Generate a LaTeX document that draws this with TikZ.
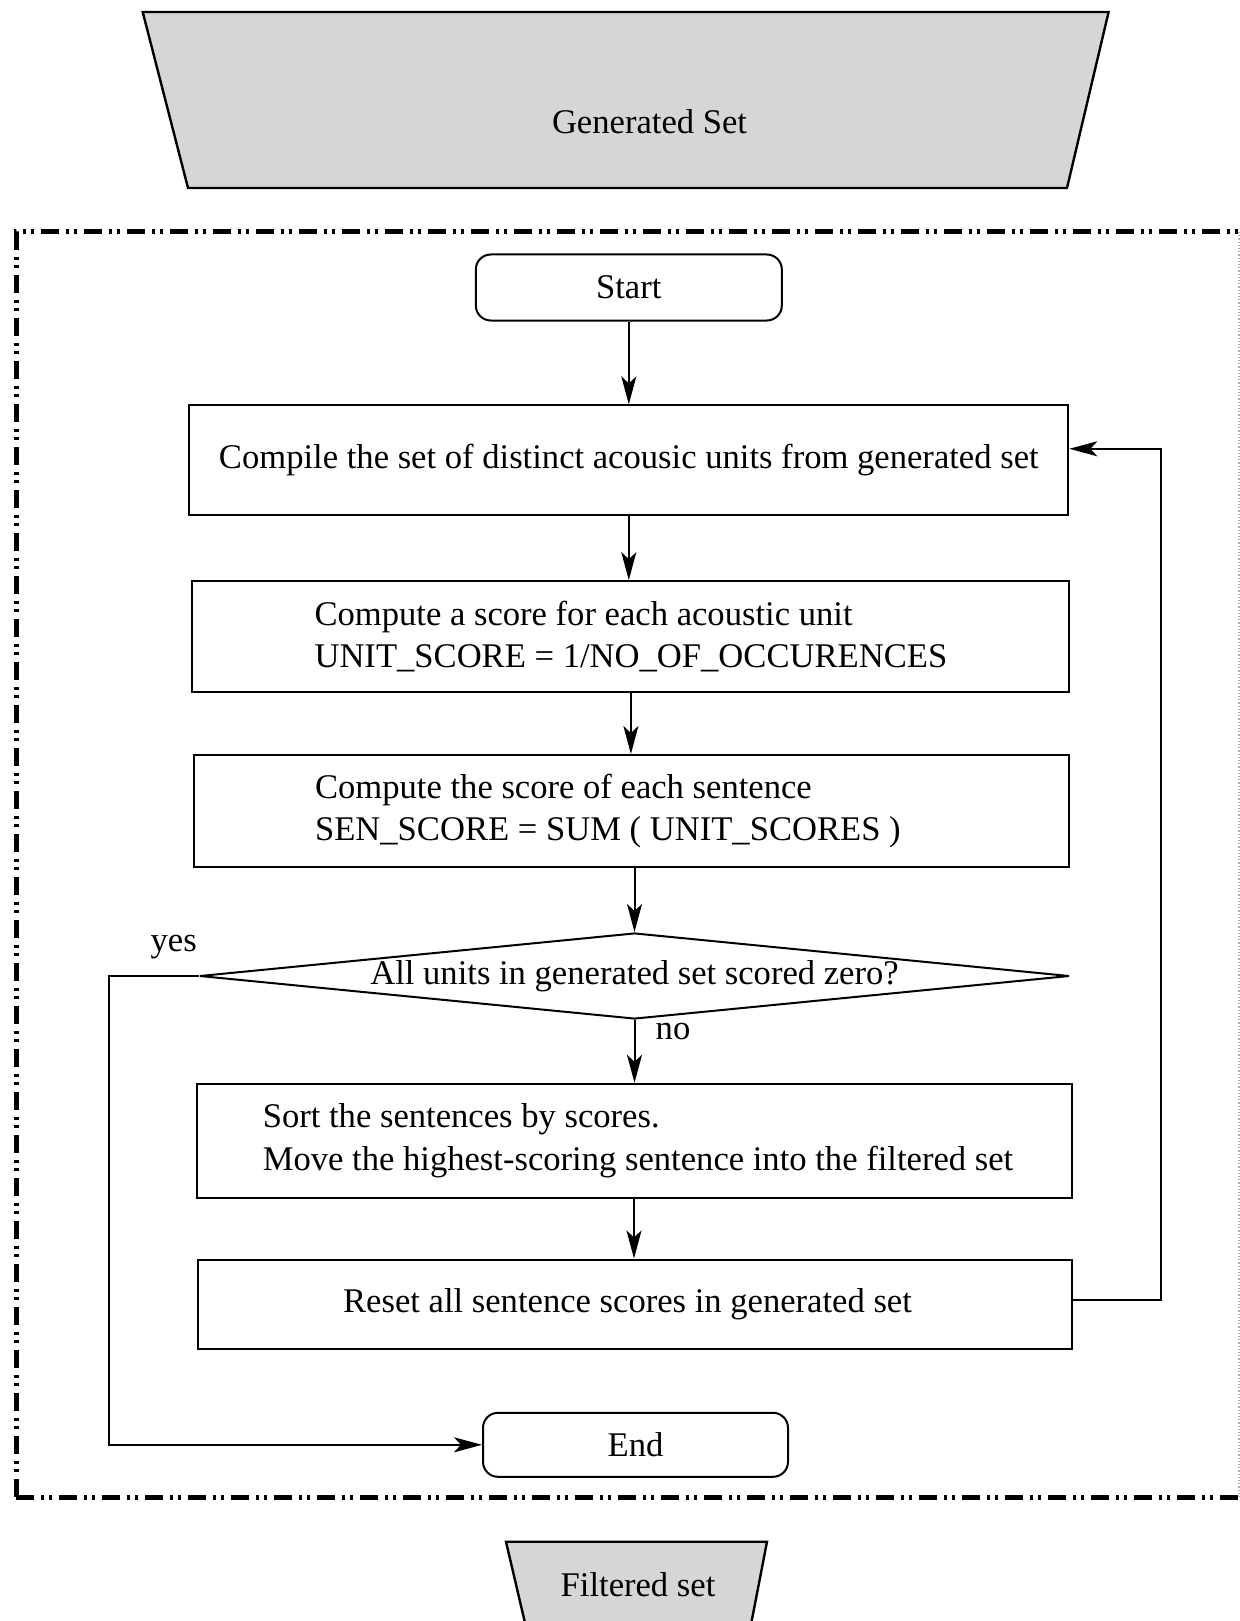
\documentclass[tikz,border=0pt]{standalone}
\usepackage{fontspec}
\setmainfont{Liberation Serif}
\usetikzlibrary{arrows.meta,shapes.geometric,calc}
\begin{document}
\begin{tikzpicture}[x=0.5pt,y=-0.5pt,
  every node/.style={font=\fontsize{17.3}{21.2}\selectfont},
  box/.style={draw, line width=1pt, inner sep=0pt, align=left},
  term/.style={box, rounded corners=7.5pt, align=center},
  arr/.style={line width=1pt, -{Stealth[length=14pt,width=7.5pt,inset=3.5pt]}},
  frame/.style={line width=2.5pt, dash pattern=on 9pt off 3.5pt on 1.5pt off 2.5pt on 1.5pt off 3.5pt},
  trap/.style={draw, line width=1.2pt, fill=black!16}]
\clip (0,0) rectangle (1240,1621);
\fill[white] (0,0) rectangle (1240,1621);

% input / output sets
\draw[trap] (142.7,12) -- (1108.6,12) -- (1067,188) -- (188,188) -- cycle;
\node (gen) at (649.5,122) {Generated Set};
\draw[trap] (506,1541.7) -- (767,1541.7) -- (748,1640) -- (529,1640) -- cycle;
\node (filt) at (638,1585) {Filtered set};

% frame
\draw[frame] (16,1497) -- (16,232) -- (1239,232);
\draw[frame] (16,1497) -- (1239,1497);
\draw[black!30, line width=0.6pt, densely dotted] (1239,232) -- (1239,1497);

% nodes
\node[term, minimum width=153pt, minimum height=33pt] (start) at (628.8,287.5) {Start};
\node[box, align=center, minimum width=439.5pt, minimum height=54.8pt] (b1) at (628.8,460.2)
  {Compile the set of distinct acousic units from generated set};
\node[box, minimum width=438.5pt, minimum height=55.35pt] (b2) at (630.9,636.5)
  {Compute a score for each acoustic unit\\UNIT\_SCORE = 1/NO\_OF\_OCCURENCES};
\node[box, minimum width=437.5pt, minimum height=55.8pt] (b3) at (631.9,810.8)
  {Compute the score of each sentence\\SEN\_SCORE = SUM ( UNIT\_SCORES )\hspace*{24pt}};
\node[diamond, draw, line width=1pt, aspect=10.1, minimum width=435pt, minimum height=43pt, inner sep=0pt] (dec) at (634.5,976)
  {All units in generated set scored zero?};
\node[box, minimum width=437.5pt, minimum height=56.9pt] (b4) at (634,1140.7)
  {\hspace*{4pt}Sort the sentences by scores.\\\hspace*{4pt}Move the highest-scoring sentence into the filtered set};
\node[box, align=center, minimum width=437pt, minimum height=44.5pt] (b5) at (634.5,1304)
  {Reset all sentence scores in generated set\hspace*{7pt}};
\node[term, minimum width=152.5pt, minimum height=32pt] (endn) at (635.5,1444.8) {End};

\node (yes) at (173.7,947) {yes};
\node (no) at (673,1032) {no};

% connectors
\draw[arr] (start.south) -- (start.south |- b1.north);
\draw[arr] (b1.south) -- (b1.south |- b2.north);
\draw[arr] (b2.south) -- (b2.south |- b3.north);
\draw[arr] (b3.south -| dec.north) -- (dec.north);
\draw[arr] (dec.south) -- (dec.south |- b4.north);
\draw[arr] (b4.south) -- (b4.south |- b5.north);
\coordinate (ycorner) at (108.6,976);
\draw[arr] (dec.west) -- (ycorner) |- (endn.west);
\draw[arr] ([yshift=2pt]b5.east) -- ++(88,0) |- ([yshift=5.7pt]b1.east);
\end{tikzpicture}
\end{document}
